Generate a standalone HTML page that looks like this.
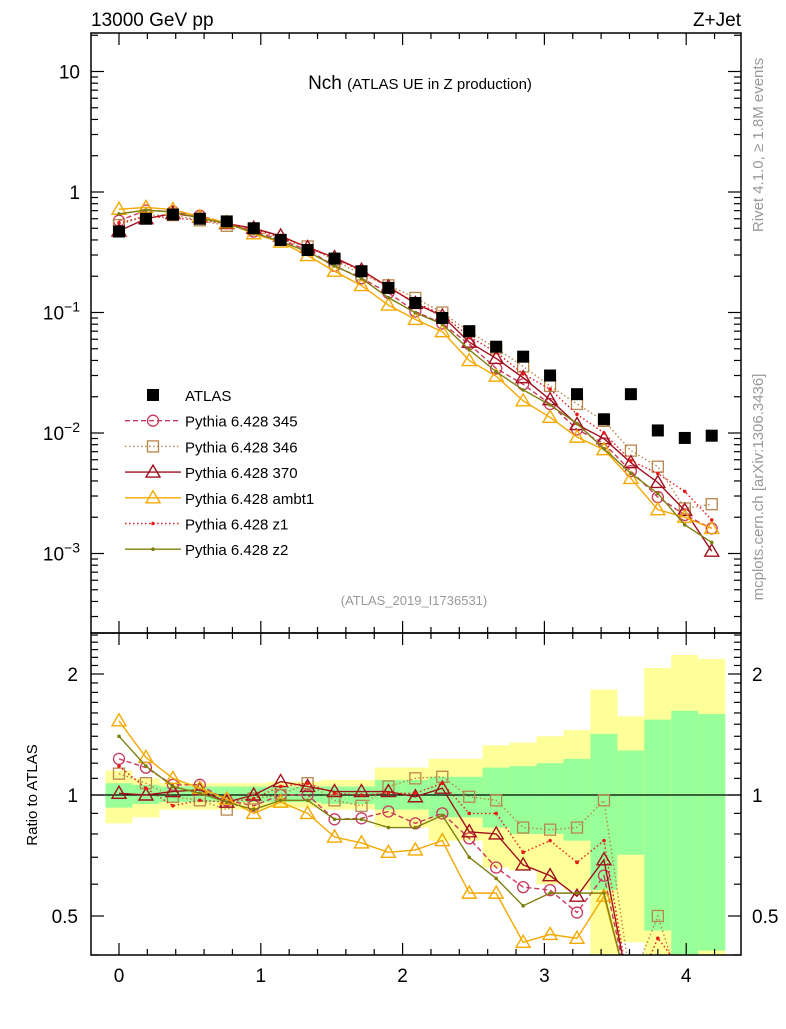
<!DOCTYPE html>
<html><head><meta charset="utf-8"><style>
body{margin:0;background:#fff;}
svg text{font-family:"Liberation Sans",sans-serif;}
</style></head><body>
<svg id="c" width="786" height="1024" xmlns="http://www.w3.org/2000/svg"></svg>
<script>
const xVals=[0,0.19,0.38,0.57,0.76,0.95,1.14,1.33,1.52,1.71,1.9,2.09,2.28,2.47,2.66,2.85,3.04,3.23,3.42,3.61,3.8,3.99,4.18];
const atlas=[0.47,0.6,0.65,0.6,0.57,0.5,0.4,0.33,0.28,0.22,0.16,0.12,0.09,0.07,0.052,0.043,0.03,0.021,0.013,0.021,0.0105,0.0091,0.0095];
const r345=[1.23,1.17,1.06,1.06,0.97,0.94,1.0,1.0,0.87,0.875,0.91,0.85,0.90,0.78,0.66,0.59,0.58,0.51,0.63,0.23,0.28,0.23,0.17];
const r346=[1.13,1.07,0.99,0.97,0.92,0.98,1.0,1.07,0.97,0.94,1.05,1.10,1.11,0.99,0.97,0.83,0.82,0.83,0.97,0.34,0.50,0.26,0.27];
const r370=[1.01,1.0,1.02,1.03,0.96,1.0,1.08,1.05,1.02,1.02,1.02,0.99,1.04,0.81,0.80,0.67,0.63,0.56,0.69,0.27,0.37,0.25,0.11];
const rAmbt1=[1.53,1.24,1.10,1.04,0.977,0.90,0.96,0.90,0.786,0.76,0.72,0.73,0.77,0.57,0.57,0.43,0.45,0.44,0.56,0.20,0.22,0.22,0.17];
const rZ1=[1.18,1.04,0.94,0.97,0.96,0.98,1.05,1.07,1.01,1.0,1.01,1.01,1.07,0.90,0.90,0.72,0.77,0.68,0.77,0.28,0.44,0.36,0.20];
const rZ2=[1.40,1.18,1.05,1.01,0.96,0.92,0.97,0.97,0.87,0.87,0.83,0.83,0.89,0.70,0.62,0.53,0.57,0.57,0.57,0.22,0.30,0.19,0.13];
const bandGreenUp=[1.07,1.06,1.05,1.05,1.05,1.05,1.05,1.05,1.05,1.05,1.09,1.09,1.11,1.11,1.17,1.18,1.20,1.23,1.42,1.29,1.54,1.62,1.59];
const bandGreenDn=[0.93,0.95,0.96,0.96,0.96,0.96,0.96,0.96,0.95,0.95,0.92,0.92,0.88,0.88,0.83,0.80,0.80,0.77,0.58,0.71,0.46,0.3,0.41];
const bandYellowUp=[1.15,1.10,1.07,1.07,1.07,1.07,1.08,1.08,1.09,1.09,1.17,1.17,1.23,1.23,1.33,1.35,1.40,1.45,1.83,1.57,2.07,2.23,2.18];
const bandYellowDn=[0.85,0.88,0.92,0.92,0.92,0.92,0.93,0.93,0.92,0.92,0.83,0.83,0.77,0.77,0.66,0.65,0.60,0.58,0.3,0.43,0.3,0.3,0.3];
const xTicks=[0,1,2,3,4];
const yTickExp=[1,0,-1,-2,-3];
const rTicks=[2,1,0.5];

const S=document.getElementById('c');const NS='http://www.w3.org/2000/svg';
function el(t,a,p){const e=document.createElementNS(NS,t);for(const k in a)e.setAttribute(k,a[k]);(p||S).appendChild(e);return e;}
const L=91,R=741,T1=33,B1=633,T2=633,B2=955;
const X=v=>119+v*141.8;
const Y=v=>192-120.5*Math.log10(v);
const YR=v=>795-121*Math.log2(v);
const cl=(v,a,b)=>Math.max(a,Math.min(b,v));

// clip paths
const defs=el('defs',{});
const c1=el('clipPath',{id:'cp1'},defs);el('rect',{x:L,y:T1,width:R-L,height:B1-T1},c1);
const c2=el('clipPath',{id:'cp2'},defs);el('rect',{x:L,y:T2,width:R-L,height:B2-T2},c2);
const g2=el('g',{'clip-path':'url(#cp2)'});


// bands
const hw=0.0955;
xVals.forEach((x,i)=>{
  const x0=X(x-hw),x1=X(x+hw);
  const y=el('rect',{x:x0,y:YR(bandYellowUp[i]),width:x1-x0,height:YR(bandYellowDn[i])-YR(bandYellowUp[i]),fill:'#ffff99'},g2);
  
  
  const g=el('rect',{x:x0,y:YR(bandGreenUp[i]),width:x1-x0,height:YR(bandGreenDn[i])-YR(bandGreenUp[i]),fill:'#99ff99'},g2);
  
  
});
el('line',{x1:L,x2:R,y1:YR(1),y2:YR(1),stroke:'#000','stroke-width':1.2},g2);

const series=[
 {n:'345',r:r345,c:'#c8385a',d:'5,3',m:'circle'},
 {n:'346',r:r346,c:'#b8864b',d:'1.5,2.5',m:'square'},
 {n:'370',r:r370,c:'#a0101e',d:'',m:'tri'},
 {n:'ambt1',r:rAmbt1,c:'#f5a800',d:'',m:'tri'},
 {n:'z1',r:rZ1,c:'#e81818',d:'1.5,2.5',m:'dot'},
 {n:'z2',r:rZ2,c:'#7f7f10',d:'',m:'dot'}
];
function marker(g,m,x,y,c){
  let e;
  if(m==='circle')e=el('circle',{cx:x,cy:y,r:5.5,fill:'none',stroke:c,'stroke-width':1.3},g);
  else if(m==='square')e=el('rect',{x:x-5.5,y:y-5.5,width:11,height:11,fill:'none',stroke:c,'stroke-width':1.3},g);
  else if(m==='tri')e=el('path',{d:`M${x} ${y-7}L${x+7} ${y+5}L${x-7} ${y+5}Z`,fill:'none',stroke:c,'stroke-width':1.4},g);
  else e=el('circle',{cx:x,cy:y,r:1.8,fill:c},g);
  return e;
}
const g1=el('g',{'clip-path':'url(#cp1)'});


series.forEach(s=>{
  const ptsT=xVals.map((x,i)=>`${X(x)},${Y(atlas[i]*s.r[i])}`).join(' ');
  const pl=el('polyline',{points:ptsT,fill:'none',stroke:s.c,'stroke-width':1.4,'stroke-dasharray':s.d},g1);
  
  
  xVals.forEach((x,i)=>{const mk=marker(g1,s.m,X(x),Y(atlas[i]*s.r[i]),s.c);
    
    });
  const ptsR=xVals.map((x,i)=>`${X(x)},${cl(YR(s.r[i]),600,1000)}`).join(' ');
  const pr=el('polyline',{points:ptsR,fill:'none',stroke:s.c,'stroke-width':1.4,'stroke-dasharray':s.d},g2);
  
  
  xVals.forEach((x,i)=>{if(s.r[i]<0.38)return;const mk=marker(g2,s.m,X(x),YR(s.r[i]),s.c);
    
    });
});
xVals.forEach((x,i)=>{const r=el('rect',{x:X(x)-6,y:Y(atlas[i])-6,width:12,height:12,fill:'#000'},g1);
  
  });

// frames
[[T1,B1],[T2,B2]].forEach(([t,b])=>el('rect',{x:L,y:t,width:R-L,height:b-t,fill:'none',stroke:'#000','stroke-width':1.5}));
// x ticks
function tk(x1,y1,x2,y2){el('line',{x1,y1,x2,y2,stroke:'#000','stroke-width':1.2});}
for(let v=-0.2;v<=4.4;v+=0.2){const x=X(v);if(x<L||x>R)continue;const maj=Math.abs(v-Math.round(v))<0.01;const l=maj?12:6;
  [[T1,B1],[T2,B2]].forEach(([t,b])=>{tk(x,t,x,t+l);tk(x,b,x,b-l);});}
xTicks.forEach(v=>{const t=el('text',{x:X(v),y:982,'font-size':19,'text-anchor':'middle'});t.textContent=v;
  
  });
// y log ticks
for(let e=-4;e<=1;e++){for(let m=1;m<10;m++){const v=m*Math.pow(10,e);const y=Y(v);if(y<T1||y>B1)continue;const l=m===1?13:7;tk(L,y,L+l,y);tk(R,y,R-l,y);}}
yTickExp.forEach(e=>{const y=Y(Math.pow(10,e));const t=el('text',{x:80,y:y+7,'font-size':19,'text-anchor':'end'});
  if(e===1)t.textContent='10';else if(e===0)t.textContent='1';else{t.textContent='10';const s=el('tspan',{dy:-8,'font-size':14},t);s.textContent='−'+(-e);}
  
  });
// ratio ticks
[0.4,0.5,0.6,0.7,0.8,0.9,1,1.1,1.2,1.3,1.4,1.5,1.6,1.7,1.8,1.9,2,2.1,2.2,2.3,2.4,2.5].forEach(v=>{const y=YR(v);if(y<T2||y>B2)return;const maj=[0.5,1,2].includes(v);const l=maj?13:7;tk(L,y,L+l,y);tk(R,y,R-l,y);});
rTicks.forEach(v=>{const y=YR(v)+7;
  const a=el('text',{x:78,y,'font-size':19,'text-anchor':'end'});a.textContent=v;
  
  
  const b=el('text',{x:752,y,'font-size':19});b.textContent=v;
  
  });
// legend
const lg=el('g',{});


const ly0=395,ldy=25.7;
el('rect',{x:147,y:ly0-6,width:12,height:12,fill:'#000'},lg);
let t0=el('text',{x:185,y:ly0+6,'font-size':15},lg);t0.textContent='ATLAS';
series.forEach((s,i)=>{const y=ly0+ldy*(i+1);
  el('line',{x1:125,x2:181,y1:y,y2:y,stroke:s.c,'stroke-width':1.4,'stroke-dasharray':s.d},lg);
  marker(lg,s.m,153,y,s.c);
  const t=el('text',{x:185,y:y+6,'font-size':15},lg);t.textContent='Pythia 6.428 '+s.n;
  
  });
</script>
<svg width="786" height="1024" style="position:absolute;left:0;top:0" xmlns="http://www.w3.org/2000/svg">
<text x="91" y="26" font-size="19" font-family="Liberation Sans">13000 GeV pp</text>
<text x="741" y="26" font-size="19" font-family="Liberation Sans" text-anchor="end">Z+Jet</text>
<text x="420" y="89" font-size="19" font-family="Liberation Sans" text-anchor="middle">Nch <tspan font-size="15">(ATLAS UE in Z production)</tspan></text>
<text x="414" y="605" font-size="13" fill="#999" font-family="Liberation Sans" text-anchor="middle">(ATLAS_2019_I1736531)</text>
<text transform="translate(763,145) rotate(-90)" font-size="15" fill="#999" font-family="Liberation Sans" text-anchor="middle">Rivet 4.1.0, ≥ 1.8M events</text>
<text transform="translate(763,487) rotate(-90)" font-size="15" fill="#999" font-family="Liberation Sans" text-anchor="middle">mcplots.cern.ch [arXiv:1306.3436]</text>
<text transform="translate(37,795) rotate(-90)" font-size="15" font-family="Liberation Sans" text-anchor="middle">Ratio to ATLAS</text>
</svg>
</body></html>
